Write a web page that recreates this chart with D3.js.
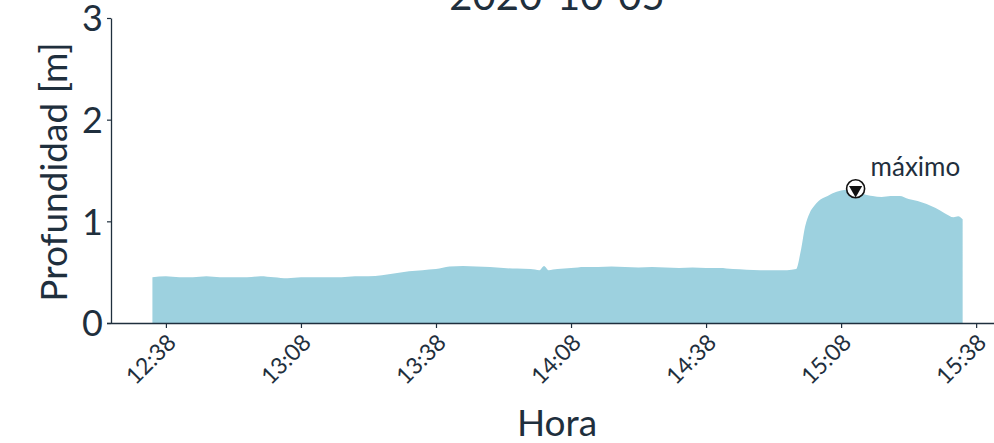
<!DOCTYPE html>
<html><head><meta charset="utf-8">
<script src="https://cdn.jsdelivr.net/npm/d3@7"></script>
<style>body{margin:0;background:#fff}svg{display:block;font-family:Lato,"Noto Sans",sans-serif;font-weight:400}</style>
</head><body><svg id="c" width="994" height="443"></svg>
<script>
const title = "2020-10-05";
const times = ["12:35","12:38","12:41","12:44","12:47","12:50","12:53","12:56","12:59","13:02","13:05","13:08","13:11","13:14","13:17","13:20","13:23","13:26","13:29","13:32","13:35","13:38","13:41","13:44","13:47","13:50","13:53","13:56","13:59","14:01","14:02","14:03","14:05","14:08","14:11","14:14","14:17","14:20","14:23","14:26","14:29","14:32","14:35","14:38","14:41","14:44","14:47","14:50","14:53","14:56","14:58","14:59","15:00","15:01","15:02","15:03","15:05","15:07","15:09","15:11","15:13","15:15","15:17","15:19","15:21","15:23","15:25","15:27","15:29","15:31","15:33","15:34","15:35"];
const depth = [0.45,0.46,0.45,0.45,0.46,0.45,0.45,0.45,0.46,0.45,0.44,0.45,0.45,0.45,0.45,0.46,0.46,0.47,0.49,0.51,0.52,0.53,0.555,0.56,0.555,0.55,0.54,0.535,0.53,0.52,0.56,0.52,0.53,0.54,0.55,0.55,0.555,0.55,0.545,0.55,0.545,0.54,0.545,0.54,0.54,0.53,0.525,0.52,0.52,0.52,0.53,0.70,0.95,1.08,1.15,1.20,1.25,1.29,1.31,1.32,1.27,1.25,1.24,1.25,1.25,1.22,1.20,1.17,1.13,1.08,1.04,1.05,1.02];
const xTicks = ["12:38","13:08","13:38","14:08","14:38","15:08","15:38"];
const yTicks = [0,1,2,3];
const xDomain = ["12:25.8","15:43.3"];
const maxLabel = "máximo";
const xLabel = "Hora", yLabel = "Profundidad [m]";

const parse = s => { const [h,m] = s.split(":"); return new Date(2020,9,5,+h,0,0,0).getTime() + parseFloat(m)*60000; };
const data = times.map((t,i)=>({t:parse(t), v:depth[i]}));

const svg = d3.select("#c");
const ink = "#1f2f3d";
const x = d3.scaleLinear().domain(xDomain.map(parse)).range([111, 1000]);
const y = d3.scaleLinear().domain([0,3]).range([323, 18]);

svg.append("path").datum(data)
  .attr("fill","#9dd1df")
  .attr("d", d3.area().x(d=>x(d.t)).y0(y(0)).y1(d=>y(d.v)).curve(d3.curveMonotoneX));

// x axis
const xa = svg.append("g").attr("transform",`translate(0,${y(0)})`)
  .call(d3.axisBottom(x).tickValues(xTicks.map(parse)).tickFormat((d,i)=>xTicks[i]).tickSize(5).tickSizeOuter(0));
xa.select(".domain").attr("d", `M107,0.5H1000`).attr("stroke",ink).attr("stroke-width",1.3);
xa.selectAll(".tick line").attr("stroke",ink).attr("stroke-width",1.2);
xa.selectAll(".tick text").attr("fill",ink).attr("font-size",23).attr("font-family","Lato")
  .attr("text-anchor","end").attr("dy",null).attr("y",null)
  .attr("transform","translate(11,21) rotate(-45)");

// y axis
const ya = svg.append("g").attr("transform",`translate(111,0)`)
  .call(d3.axisLeft(y).tickValues(yTicks).tickFormat(d3.format("d")).tickSize(4).tickSizeOuter(0));
ya.select(".domain").attr("stroke",ink).attr("stroke-width",1.3);
ya.selectAll(".tick line").attr("stroke",ink).attr("stroke-width",1.2);
ya.selectAll(".tick text").attr("fill",ink).attr("font-size",36).attr("font-family","Lato").attr("x",-8).attr("dy","0.36em");

// max marker
const mx = data.reduce((a,b)=>b.v>a.v?b:a);
const mg = svg.append("g").attr("transform",`translate(${x(mx.t)+1},${y(mx.v)})`);
mg.append("circle").attr("r",9).attr("fill","#fff").attr("stroke","#111").attr("stroke-width",1.6);
mg.append("path").attr("d",d3.symbol(d3.symbolTriangle,75)()).attr("transform","rotate(180) translate(0,-1)").attr("fill","#111");
svg.append("text").attr("x",x(mx.t)+16).attr("y",y(mx.v)-13).attr("fill",ink).attr("font-size",26).text(maxLabel);

// labels
svg.append("text").attr("x",557).attr("y",10).attr("text-anchor","middle").attr("fill",ink).attr("font-size",40).text(title);
svg.append("text").attr("x",557).attr("y",436).attr("text-anchor","middle").attr("fill",ink).attr("font-size",37).text(xLabel);
svg.append("text").attr("transform","translate(67,172) rotate(-90)").attr("text-anchor","middle").attr("fill",ink).attr("font-size",37).text(yLabel);
</script></body></html>
